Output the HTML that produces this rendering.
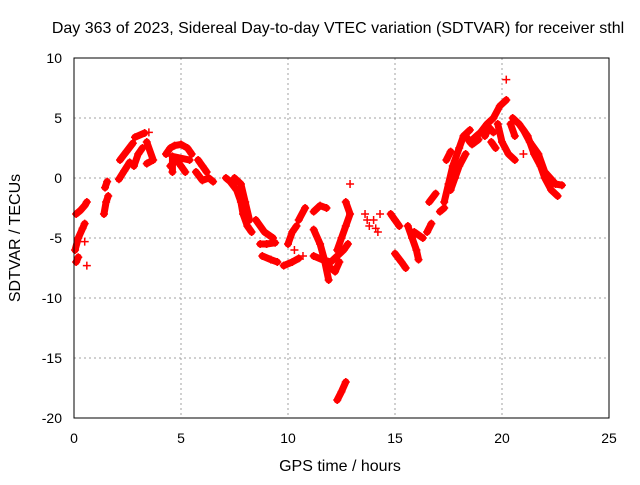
<!DOCTYPE html>
<html><head><meta charset="utf-8"><style>
body{margin:0;background:#fff}
svg text{font-family:"Liberation Sans",sans-serif;font-size:14px;fill:#000}
svg text.big{font-size:16px}
</style></head><body>
<svg id="chart" width="640" height="480" viewBox="0 0 640 480" xmlns="http://www.w3.org/2000/svg">
<rect width="640" height="480" fill="#fff"/>
<text class="big" x="338" y="33" text-anchor="middle">Day 363 of 2023, Sidereal Day-to-day VTEC variation (SDTVAR) for receiver sthl</text>
<g id="grid"></g>
<g id="axes"></g>
<g id="marks"></g>
<rect x="74" y="58" width="535" height="360" fill="none" stroke="#000" stroke-width="1"/>
<text class="big" transform="translate(20,238) rotate(-90)" text-anchor="middle">SDTVAR / TECUs</text>
<text class="big" x="340" y="471" text-anchor="middle">GPS time / hours</text>
</svg>
<script>
const xTicks=[0,5,10,15,20,25];
const yTicks=[10,5,0,-5,-10,-15,-20];
const tracks=[
[[0.1,-3],[0.3,-2.7],[0.5,-2.3],[0.6,-2]],
[[0.05,-6],[0.2,-5],[0.4,-4.2],[0.5,-3.8]],
[[0.1,-7],[0.2,-6.6]],
[[0.6,-7.3]],[[0.5,-5.3]],
[[1.4,-3],[1.5,-2],[1.6,-1.5]],
[[1.45,-0.8],[1.55,-0.3]],
[[2.1,-0.1],[2.35,0.6],[2.6,1.3]],
[[2.15,1.5],[2.45,2.2],[2.75,2.9]],
[[2.85,3.4],[3.3,3.75]],[[3.5,3.8]],
[[2.8,1],[3,2],[3.2,2.5]],[[3.4,1.2],[3.7,1.5],[3.4,3]],
[[4.3,2],[4.5,2.5],[4.7,2.7],[5,2.8],[5.3,2.5],[5.5,2]],
[[4.5,1],[4.8,1.5],[5,1],[5.2,0.5]],[[4.6,0.5],[4.6,1.8],[5.4,1.5]],
[[5.8,1.5],[6,1],[6.2,0.5]],[[5.7,0.5],[6,-0.2],[6.3,0],[6.5,-0.3]],
[[7.1,0],[7.3,-0.3],[7.6,-1],[7.8,-2],[7.9,-3],[8.1,-4],[8.3,-4.5]],
[[7.5,0],[7.8,-0.5],[8,-2],[8.2,-3.5]],
[[8.5,-3.5],[8.9,-4.5],[9.3,-5]],[[9,-5.5]],
[[8.7,-5.5],[9,-5.5],[9.4,-5.4]],
[[8.8,-6.5],[9.2,-6.8],[9.5,-7]],
[[9.8,-7.3],[10.2,-7],[10.5,-6.7]],
[[10,-5.5],[10.2,-4.5],[10.4,-4]],
[[10.5,-3.5],[10.8,-2.5]],
[[10.3,-6]],[[10.7,-6.5]],
[[11.2,-2.8],[11.5,-2.3],[11.8,-2.5]],
[[11.2,-4.3],[11.5,-5.5],[11.7,-6.8],[11.9,-8.5]],
[[11.2,-6.5],[11.6,-6.8],[12,-7],[12.3,-6.5],[12.6,-6],[12.8,-5.5]],
[[12,-7.5],[12.2,-7.8],[12.4,-7]],
[[12.7,-2],[12.9,-3],[12.7,-4],[12.5,-5],[12.3,-6]],[[12.9,-0.5]],
[[12.3,-18.5],[12.5,-17.8],[12.7,-17]],
[[13.6,-3]],[[13.8,-4]],[[14,-3.5]],[[14.2,-4.5]],[[14.3,-3]],[[13.7,-3.5]],[[14.1,-4.2]],
[[14.8,-3],[15,-3.5],[15.2,-4]],
[[15,-6.3],[15.3,-7],[15.5,-7.5]],
[[15.6,-4],[15.8,-5],[16,-6],[16.1,-6.8]],[[15.9,-4.5],[16.3,-5]],
[[16.5,-4.5],[16.7,-3.8]],
[[16.6,-2],[16.9,-1.3]],
[[17.1,-2.8],[17.3,-2.5]],
[[17.3,-2],[17.5,-0.5],[17.7,1],[18,2.5],[18.2,3.5],[18.5,4]],
[[17.6,-1],[17.8,0],[18,1],[18.3,2]],
[[17.4,1.5],[17.6,2.2]],[[18.3,3.5],[18.6,2.8],[18.9,3.2]],
[[18.5,3],[18.8,3.5],[19,3.8],[19.3,4.5],[19.6,5],[19.9,6],[20.2,6.5]],
[[19.2,3.5],[19.4,4.2],[19.6,3.8]],
[[20.2,8.2]],
[[19.8,4.5],[20,3],[20.3,2],[20.6,1.5]],
[[20.5,5],[20.8,4.5],[21.2,3.5],[21.5,2],[21.8,1],[22,0],[22.3,-1],[22.6,-1.5]],
[[21,4],[21.3,3],[21.7,2],[22,0.5],[22.5,-0.5],[22.8,-0.6]],
[[20.4,4.5],[20.6,3.5]],
[[19.5,3],[19.7,2.5]],[[21,2]]
];
const NS="http://www.w3.org/2000/svg";
const X=h=>74+h*21.4, Y=v=>58+(10-v)*12;
const grid=document.getElementById('grid'),axes=document.getElementById('axes'),marks=document.getElementById('marks');
function mk(t,a,p){const e=document.createElementNS(NS,t);for(const k in a)e.setAttribute(k,a[k]);p.appendChild(e);return e;}
xTicks.forEach(t=>{
 if(t>0&&t<25){const g=mk('line',{x1:X(t),x2:X(t),y1:58,y2:418,stroke:'#a0a0a0','stroke-dasharray':'2,3'},grid);
 }
 const l=mk('text',{x:X(t),y:443,'text-anchor':'middle'},axes);l.textContent=t;
 
});
yTicks.forEach(t=>{
 if(t<10&&t>-20){const g=mk('line',{x1:74,x2:609,y1:Y(t),y2:Y(t),stroke:'#a0a0a0','stroke-dasharray':'2,3'},grid);
 }
 const l=mk('text',{x:62,y:Y(t)+5,'text-anchor':'end'},axes);l.textContent=t;
 
});
tracks.forEach(tr=>{
 const g=mk('g',{},marks);
 
 
 if(tr.length>1){mk('polyline',{points:tr.map(p=>X(p[0])+','+Y(p[1])).join(' '),fill:'none',stroke:'#f00','stroke-width':7,'stroke-linecap':'round','stroke-linejoin':'round'},g);}
 tr.forEach(p=>{const x=X(p[0]),y=Y(p[1]);
  mk('path',{d:`M${x-4},${y}H${x+4}M${x},${y-4}V${y+4}`,stroke:'#f00','stroke-width':1.5},g);});
});
</script>
</body></html>
